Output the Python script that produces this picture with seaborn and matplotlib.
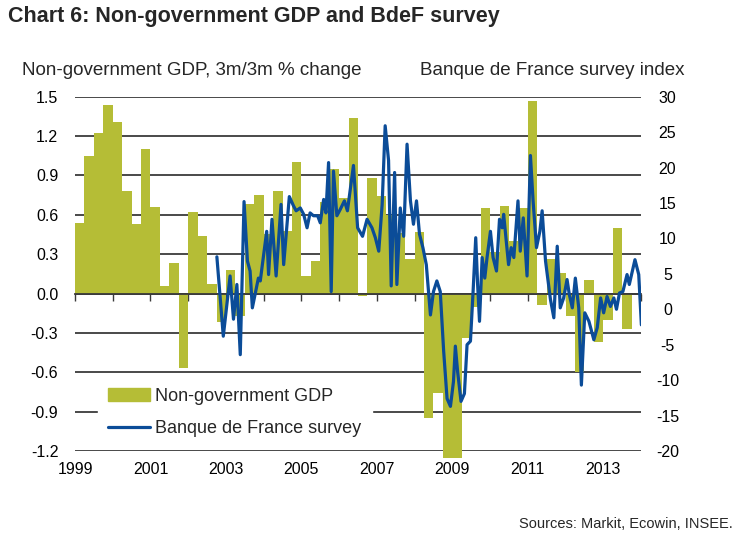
import numpy as np
import matplotlib
matplotlib.use('Agg')
import matplotlib.pyplot as plt
import seaborn as sns
from matplotlib.patches import Patch
from matplotlib.lines import Line2D

# non-government GDP, 3m/3m % change, quarterly from 1999Q1
gdp_start = 1999.0
gdp = [0.54, 1.05, 1.22, 1.44, 1.31, 0.78, 0.53, 1.10, 0.66, 0.06,
       0.23, -0.57, 0.62, 0.44, 0.07, -0.22, 0.18, -0.17, 0.68, 0.75,
       0.45, 0.78, 0.48, 1.00, 0.13, 0.25, 0.70, 0.95, 0.73, 1.34,
       -0.02, 0.88, 0.74, 0.60, 0.46, 0.26, 0.47, -0.95, -0.76, -1.25,
       -1.25, -0.34, -0.10, 0.65, 0.32, 0.67, 0.40, 0.65, 1.47, -0.09,
       0.26, 0.16, -0.17, -0.60, 0.10, -0.37, -0.20, 0.50, -0.27]

# Banque de France survey index (decimal year, value)
survey_t = [2002.76, 2002.93, 2003.11, 2003.20, 2003.29, 2003.38, 2003.48, 2003.57,
            2003.64, 2003.70, 2003.86, 2003.91, 2004.08, 2004.13, 2004.22, 2004.33,
            2004.46, 2004.53, 2004.68, 2004.79, 2004.86, 2004.97, 2005.06, 2005.15,
            2005.23, 2005.32, 2005.43, 2005.50, 2005.59, 2005.65, 2005.72, 2005.79,
            2005.85, 2005.94, 2006.03, 2006.14, 2006.22, 2006.38, 2006.49, 2006.62,
            2006.74, 2006.87, 2006.96, 2007.05, 2007.14, 2007.22, 2007.31, 2007.38,
            2007.47, 2007.53, 2007.62, 2007.71, 2007.80, 2007.89, 2007.97, 2008.05,
            2008.13, 2008.22, 2008.31, 2008.42, 2008.50, 2008.59, 2008.68, 2008.77,
            2008.86, 2008.95, 2009.03, 2009.08, 2009.14, 2009.23, 2009.32, 2009.39,
            2009.48, 2009.55, 2009.62, 2009.67, 2009.72, 2009.79, 2009.86, 2009.92,
            2010.01, 2010.08, 2010.17, 2010.25, 2010.32, 2010.36, 2010.43, 2010.49,
            2010.56, 2010.63, 2010.74, 2010.80, 2010.88, 2010.98, 2011.07, 2011.14,
            2011.23, 2011.32, 2011.38, 2011.47, 2011.60, 2011.69, 2011.78, 2011.86,
            2011.95, 2012.04, 2012.10, 2012.18, 2012.26, 2012.35, 2012.42, 2012.51,
            2012.62, 2012.75, 2012.84, 2012.93, 2013.01, 2013.10, 2013.19, 2013.28,
            2013.35, 2013.43, 2013.52, 2013.63, 2013.69, 2013.84, 2013.94, 2014.01]
survey_v = [7.4, -3.8, 4.7, -1.4, 3.5, -6.4, 15.2, 6.8,
            5.4, 0.2, 4.4, 4.0, 11.0, 4.9, 12.7, 4.7,
            14.8, 6.3, 15.9, 14.6, 13.9, 14.3, 13.4, 11.5,
            13.6, 13.2, 13.2, 12.2, 15.5, 13.6, 20.7, 2.5,
            19.5, 13.2, 14.1, 15.3, 13.9, 20.3, 11.5, 10.3,
            12.7, 11.5, 10.1, 8.2, 14.8, 25.9, 21.0, 3.3,
            19.3, 3.5, 14.3, 10.3, 23.3, 15.3, 12.0, 15.3,
            10.6, 8.7, 6.3, -0.8, 2.5, 4.0, 2.5, -5.9,
            -12.6, -13.7, -10.2, -5.2, -8.8, -13.0, -11.9, -5.0,
            -4.5, 2.5, 10.1, 3.5, -1.7, 7.3, 4.4, 7.3,
            11.0, 7.3, 5.4, 12.7, 11.5, 13.4, 9.6, 6.3,
            8.7, 7.3, 15.3, 8.2, 12.9, 4.7, 21.7, 15.3,
            8.7, 11.0, 13.9, 6.8, 1.4, -1.2, 8.9, 0.2,
            1.6, 4.2, 2.1, 0.2, 4.4, 0.2, -10.7, -0.5,
            -1.7, -4.3, -2.6, 1.6, -0.5, 1.8, 0.4, 1.6,
            0.0, 2.3, 2.5, 4.9, 3.5, 7.0, 4.9, -2.2]

gdp_ticks = [-1.2, -0.9, -0.6, -0.3, 0.0, 0.3, 0.6, 0.9, 1.2, 1.5]
survey_ticks = [-20, -15, -10, -5, 0, 5, 10, 15, 20, 25, 30]
year_ticks = list(range(1999, 2015))
year_labels = [1999, 2001, 2003, 2005, 2007, 2009, 2011, 2013]

olive = '#B5BD36'
blue = '#0B4C98'
grid = '#3a3a3a'

sns.set_theme(style='white')
plt.rcParams['font.family'] = ['Liberation Sans', 'DejaVu Sans']

fig = plt.figure(figsize=(7.36, 5.37), dpi=100)
ax = fig.add_axes([75 / 736, 1 - 451 / 537, 566 / 736, 354.3 / 537])

qx = gdp_start + np.arange(len(gdp)) * 0.25
ax.bar(qx, gdp, width=0.25, align='edge', color=olive, linewidth=0, clip_on=False)
ax.set_xlim(1999, 2014)
ax.set_ylim(-1.2, 1.5)
ax.set_yticks(gdp_ticks)
ax.set_yticklabels([f'{v:.1f}' for v in gdp_ticks])
ax.set_axisbelow(True)
ax.grid(axis='y', color=grid, lw=1.3)
ax.grid(axis='x', visible=False)
for s in ['top', 'left', 'right']:
    ax.spines[s].set_visible(False)
ax.spines['bottom'].set_position(('data', 0))
ax.spines['bottom'].set_color(grid)
ax.spines['bottom'].set_linewidth(1.3)
ax.set_xticks(year_ticks)
ax.tick_params(axis='x', length=5, width=1, color=grid, direction='out', labelbottom=False, bottom=True)
ax.tick_params(axis='y', length=0, pad=12, labelsize=11.5, labelcolor='black')

sec = ax.secondary_xaxis('bottom')
sec.set_xticks(year_labels)
sec.set_xticklabels([str(y) for y in year_labels])
sec.tick_params(length=0, pad=8, labelsize=11.5, labelcolor='black')
sec.spines['bottom'].set_visible(False)

ax2 = ax.twinx()
sns.lineplot(x=survey_t, y=survey_v, ax=ax2, color=blue, lw=2.3)
ax2.set_ylim(-20, 30)
ax2.set_yticks(survey_ticks)
ax2.set_yticklabels([str(v) for v in survey_ticks])
for lbl in ax2.get_yticklabels():
    lbl.set_ha('center')
ax2.tick_params(axis='y', length=0, pad=19, labelsize=11.5, labelcolor='black')
for s in ax2.spines.values():
    s.set_visible(False)
ax2.set_ylabel('')

handles = [Patch(color=olive), Line2D([], [], color=blue, lw=2.3)]
ax2.legend(handles, ['Non-government GDP', 'Banque de France survey'],
           loc='lower left', bbox_to_anchor=(0.04, 0.008), frameon=True,
           fancybox=False, edgecolor='white', facecolor='white', framealpha=1,
           fontsize=13, handlelength=2.3, handleheight=0.75, handletextpad=0.3,
           labelspacing=0.85, borderpad=0.6, borderaxespad=0)

fig.text(8 / 736, 1 - 6 / 537, 'Chart 6: Non-government GDP and BdeF survey',
         fontsize=15.5, fontweight='bold', va='top', ha='left')
fig.text(22 / 736, 1 - 75 / 537, 'Non-government GDP, 3m/3m % change',
         fontsize=13.5, va='baseline', ha='left')
fig.text(685 / 736, 1 - 75 / 537, 'Banque de France survey index',
         fontsize=13.5, va='baseline', ha='right')
fig.text(733 / 736, 1 - 524 / 537, 'Sources: Markit, Ecowin, INSEE.',
         fontsize=10.5, va='center', ha='right')

fig.savefig('out.png', dpi=100, facecolor='white')
